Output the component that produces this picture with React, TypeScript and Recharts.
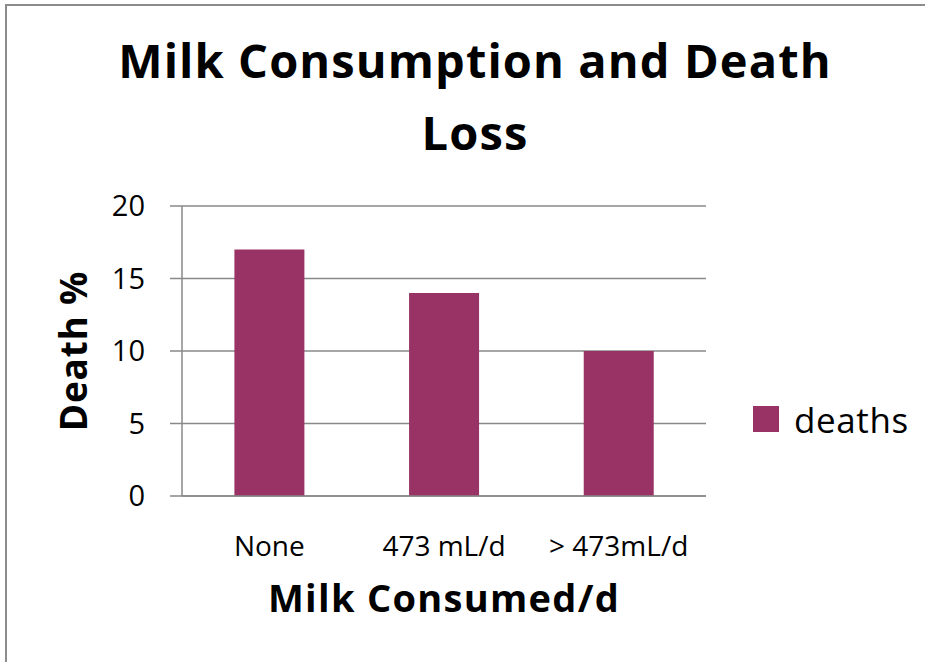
import React from "react";
import { BarChart, Bar, XAxis, YAxis, CartesianGrid } from "recharts";

const categories = ["None", "473 mL/d", "> 473mL/d"];
const deaths = [17, 14, 10];
const yTicks = [0, 5, 10, 15, 20];
const seriesName = "deaths";

const data = categories.map((c, i) => ({ name: c, deaths: deaths[i] }));

const FONT = "'Open Sans', Lato, sans-serif";
const BAR = "#993366";

export default function App() {
  return (
    <>
      <svg width={925} height={662} style={{ position: "absolute", left: 0, top: 0, display: "block" }}>
        <rect x={0} y={0} width={925} height={662} fill="#fff" />
        <path d="M6,662 V5 H925" fill="none" stroke="#8c8c8c" strokeWidth={2} />
      </svg>
      <div style={{ position: "absolute", left: 40, width: 870, top: 24, textAlign: "center", fontFamily: FONT, fontWeight: 700, fontSize: 47, lineHeight: "72px", color: "#000", letterSpacing: 1.1 }}>
        Milk Consumption and Death
        <br />
        Loss
      </div>
      <div style={{ position: "absolute", left: 0, top: 0 }}>
        <BarChart width={760} height={662} data={data} accessibilityLayer={false} style={{ outline: "none" }}
          margin={{ top: 206, right: 54, bottom: 106, left: 122 }} barCategoryGap="30%">
          <CartesianGrid vertical={false} stroke="#888" strokeWidth={1.5} />
          <XAxis dataKey="name" axisLine={{ stroke: "#888", strokeWidth: 1.5 }} tickLine={false} tickMargin={34} height={60}
            tick={{ fontFamily: FONT, fontSize: 28, fill: "#000" }} interval={0}
            label={{ value: "Milk Consumed/d", position: "insideBottom", offset: -56, style: { fontFamily: FONT, fontWeight: 700, fontSize: 38, fill: "#000", letterSpacing: 1.3 } }} />
          <YAxis domain={[0, 20]} ticks={yTicks} width={60} axisLine={{ stroke: "#888", strokeWidth: 1.5 }}
            tickLine={{ stroke: "#888", strokeWidth: 1.5 }} tickSize={12} tickMargin={25}
            tick={{ fontFamily: FONT, fontSize: 29, fill: "#000" }}
            label={{ value: "Death %", angle: -90, position: "insideLeft", offset: -48, style: { textAnchor: "middle", fontFamily: FONT, fontWeight: 700, fontSize: 37, fill: "#000", letterSpacing: 0.8 } }} />
          <Bar dataKey="deaths" fill={BAR} isAnimationActive={false} name={seriesName} />
        </BarChart>
      </div>
      <div style={{ position: "absolute", left: 753, top: 396, display: "flex", alignItems: "center", fontFamily: FONT, fontSize: 35, letterSpacing: 0.6, color: "#000", height: 46 }}>
        <div style={{ width: 26, height: 26, background: BAR, marginRight: 15 }} />
        <span>{seriesName}</span>
      </div>
    </>
  );
}
